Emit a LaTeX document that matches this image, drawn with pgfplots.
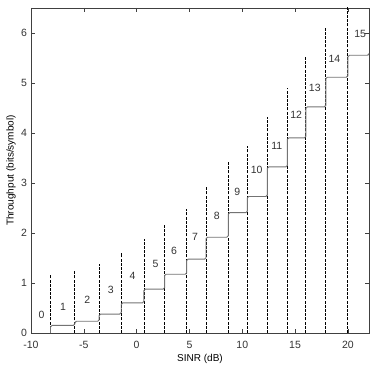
\documentclass[border=0pt]{standalone}
\usepackage{pgfplots}
\pgfplotsset{compat=1.18}
\usepackage{fontspec}
\setmainfont{Liberation Sans}
\begin{document}
\begin{tikzpicture}
\begin{axis}[
  name=ax,
  scale only axis,
  width=338pt, height=325pt,
  xmin=-10, xmax=22, ymin=0, ymax=6.5,
  xtick={-10,-5,0,5,10,15,20},
  ytick={0,1,2,3,4,5,6},
  xticklabels={-10,-5,0,5,10,15,20},
  yticklabels={0,1,2,3,4,5,6},
  tick align=inside,
  major tick length=4pt,
  tick style={black!75, line width=0.5pt},
  axis line style={black!75, line width=0.6pt},
  every tick label/.append style={font=\fontsize{10.5}{12}\selectfont, text=black!80},
  xticklabel style={yshift=-4.5pt},
  yticklabel style={xshift=-0.5pt},
  label style={font=\fontsize{10.5}{12}\selectfont, text=black!80},
  xlabel={SINR (dB)},
  ylabel={Throughput (bits/symbol)},
  every axis x label/.style={at={(axis description cs:0.5,-0.08)}, anchor=center},
  every axis y label/.style={at={(axis description cs:-0.059,0.5)}, anchor=center, rotate=90},
  clip=true,
]
% threshold lines
\addplot[ycomb, black, line width=0.8pt, dash pattern=on 3pt off 1.2pt, mark=none] coordinates {
  (-8.15,1.15) (-5.85,1.23) (-3.55,1.38) (-1.46,1.60) (0.69,1.88)
  (2.65,2.18) (4.74,2.48) (6.57,2.91) (8.68,3.41) (10.48,3.73)
  (12.38,4.32) (14.27,4.90) (16.02,5.52) (17.91,6.12) (20.00,6.60)
};
% throughput staircase
\addplot[const plot mark left, black!55, line width=0.9pt, rounded corners=1.5pt, mark=none] coordinates {
  (-8.15,0) (-8.15,0.1523) (-5.85,0.2344) (-3.55,0.3770) (-1.46,0.6016)
  (0.69,0.8770) (2.65,1.1758) (4.74,1.4766) (6.57,1.9141) (8.68,2.4063)
  (10.48,2.7305) (12.38,3.3223) (14.27,3.9023) (16.02,4.5234) (17.91,5.1152)
  (20.00,5.5547) (22,5.5547)
};
% labels
\addplot[only marks, mark=none, point meta=explicit symbolic,
  nodes near coords, nodes near coords align=center,
  every node near coord/.append style={font=\fontsize{10.5}{12}\selectfont, text=black!80, anchor=center}]
  coordinates {
  (-9.0,0.36) [0] (-6.96,0.53) [1] (-4.68,0.67) [2] (-2.44,0.87) [3]
  (-0.38,1.14) [4] (1.8,1.39) [5] (3.54,1.65) [6] (5.53,1.93) [7]
  (7.58,2.34) [8] (9.54,2.83) [9] (11.37,3.26) [10] (13.27,3.74) [11]
  (15.1,4.36) [12] (16.87,4.91) [13] (18.73,5.49) [14] (21.17,5.98) [15]
};
\end{axis}
\pgfresetboundingbox
\path[use as bounding box] ([shift={(-31pt,-33pt)}]ax.south west) rectangle ([shift={(5pt,8pt)}]ax.north east);
\end{tikzpicture}
\end{document}
